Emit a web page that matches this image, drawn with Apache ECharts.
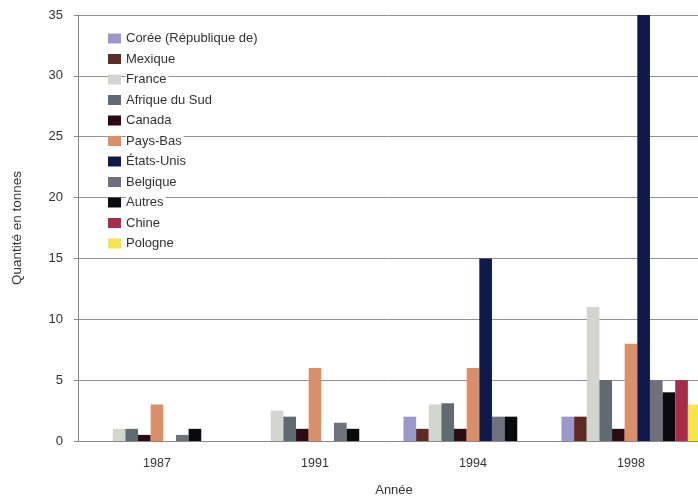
<!DOCTYPE html>
<html>
<head>
<meta charset="utf-8">
<script src="https://cdn.jsdelivr.net/npm/echarts@6/dist/echarts.min.js"></script>
<style>
  html, body { margin: 0; padding: 0; background: #fff; }
  #chart { width: 698px; height: 498px; }
</style>
</head>
<body>
<div id="chart"></div>
<script>
// years on the x axis
var years = ['1987', '1991', '1994', '1998'];

// tonnes per country, one value per year
var coree = [0, 0, 2, 2];
var mexique = [0, 0, 1, 2];
var france = [1, 2.5, 3, 11];
var afriqueSud = [1, 2, 3.1, 5];
var canada = [0.5, 1, 1, 1];
var paysBas = [3, 6, 6, 8];
var etatsUnis = [0, 0, 15, 35];
var belgique = [0.5, 1.5, 2, 5];
var autres = [1, 1, 2, 4];
var chine = [0, 0, 0, 5];
var pologne = [0, 0, 0, 3];

var seriesDefs = [
  ['Corée (République de)', coree, '#9d98cc'],
  ['Mexique', mexique, '#5e2b24'],
  ['France', france, '#d3d5cf'],
  ['Afrique du Sud', afriqueSud, '#5f6a72'],
  ['Canada', canada, '#2b0a12'],
  ['Pays-Bas', paysBas, '#db8f69'],
  ['États-Unis', etatsUnis, '#0e1a4c'],
  ['Belgique', belgique, '#70707f'],
  ['Autres', autres, '#0a0a0c'],
  ['Chine', chine, '#a82c4c'],
  ['Pologne', pologne, '#f3e54c']
];

var series = seriesDefs.map(function (d) {
  return {
    name: d[0],
    type: 'bar',
    data: d[1],
    barGap: '0%',
    barCategoryGap: '12%',
    itemStyle: { color: d[2] }
  };
});

var font = 'Liberation Sans, Arial, sans-serif';

var option = {
  animation: false,
  textStyle: { fontFamily: font },
  legend: {
    orient: 'vertical',
    left: 103,
    top: 26,
    itemWidth: 13,
    itemHeight: 10,
    itemGap: 5.5,
    icon: 'rect',
    textStyle: {
      fontFamily: font,
      fontSize: 13,
      color: '#333',
      backgroundColor: '#fff',
      padding: [1, 2, 1, 0]
    },
    data: seriesDefs.map(function (d) { return d[0]; })
  },
  grid: { left: 78, top: 15, width: 632, bottom: 57, outerBoundsMode: 'none' },
  xAxis: {
    type: 'category',
    data: years,
    name: 'Année',
    nameLocation: 'middle',
    nameGap: 43,
    nameTextStyle: { fontSize: 13, color: '#333' },
    axisLine: { lineStyle: { color: '#888' } },
    axisTick: { length: 4, lineStyle: { color: '#888' } },
    axisLabel: { fontSize: 12.5, color: '#333', margin: 16 }
  },
  yAxis: {
    type: 'value',
    min: 0,
    max: 35,
    interval: 5,
    name: 'Quantité en tonnes',
    nameLocation: 'middle',
    nameGap: 54,
    nameTextStyle: { fontSize: 13.5, color: '#333' },
    axisLine: { show: true, lineStyle: { color: '#888' } },
    axisTick: { show: true, length: 4, lineStyle: { color: '#888' } },
    axisLabel: { fontSize: 13, color: '#333', margin: 15 },
    splitLine: { lineStyle: { color: '#929292', width: 1 } }
  },
  series: series
};

var myChart = echarts.init(document.getElementById('chart'));
myChart.setOption(option);
</script>
</body>
</html>
